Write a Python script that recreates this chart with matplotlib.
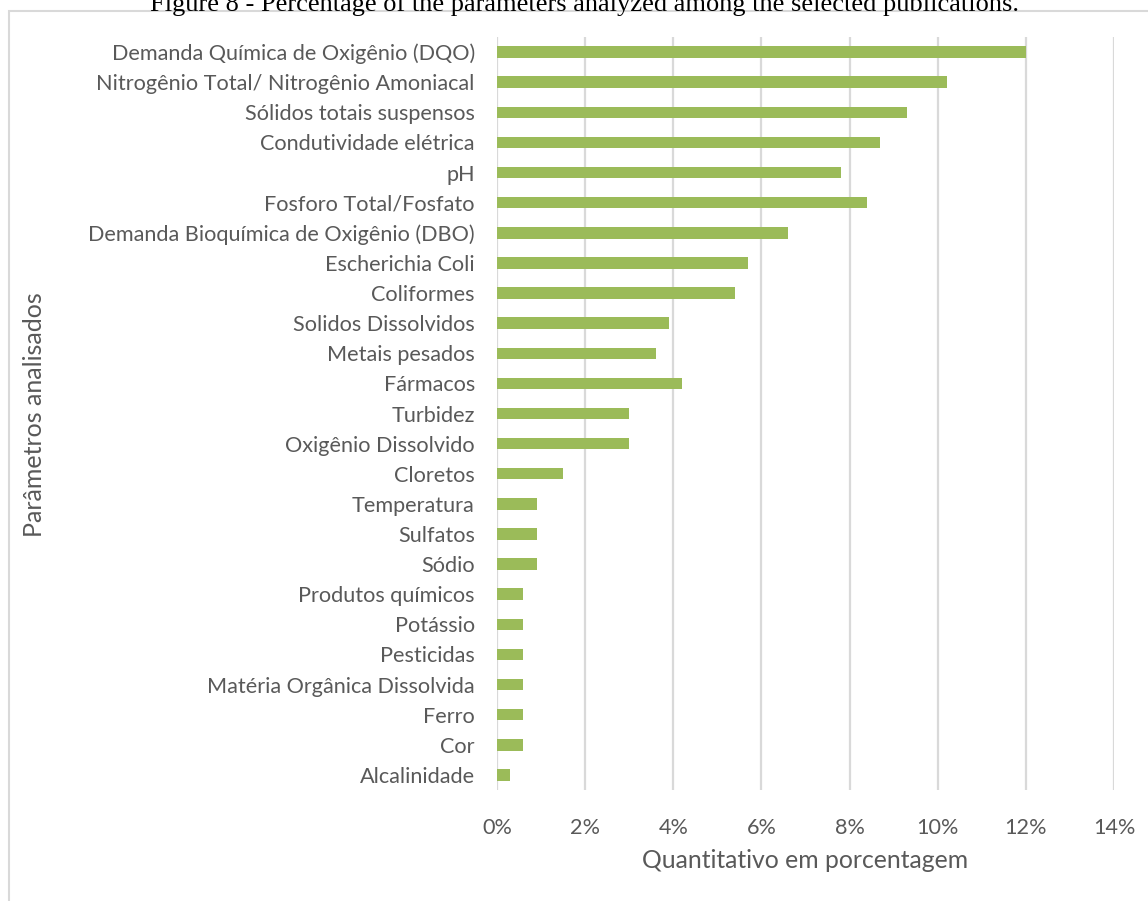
import matplotlib
matplotlib.use("Agg")
import matplotlib.pyplot as plt
from matplotlib.patches import Rectangle

categories = [
    "Demanda Química de Oxigênio (DQO)",
    "Nitrogênio Total/ Nitrogênio Amoniacal",
    "Sólidos totais suspensos",
    "Condutividade elétrica",
    "pH",
    "Fosforo Total/Fosfato",
    "Demanda Bioquímica de Oxigênio (DBO)",
    "Escherichia Coli",
    "Coliformes",
    "Solidos Dissolvidos",
    "Metais pesados",
    "Fármacos",
    "Turbidez",
    "Oxigênio Dissolvido",
    "Cloretos",
    "Temperatura",
    "Sulfatos",
    "Sódio",
    "Produtos químicos",
    "Potássio",
    "Pesticidas",
    "Matéria Orgânica Dissolvida",
    "Ferro",
    "Cor",
    "Alcalinidade",
]
values = [12.0, 10.2, 9.3, 8.7, 7.8, 8.4, 6.6, 5.7, 5.4, 3.9, 3.6, 4.2, 3.0, 3.0,
          1.5, 0.9, 0.9, 0.9, 0.6, 0.6, 0.6, 0.6, 0.6, 0.6, 0.3]
xticks = [0, 2, 4, 6, 8, 10, 12, 14]
xtick_labels = ["0%", "2%", "4%", "6%", "8%", "10%", "12%", "14%"]

caption = "Figure 8 - Percentage of the parameters analyzed among the selected publications."
xlabel = "Quantitativo em porcentagem"
ylabel = "Parâmetros analisados"

W, H = 1148, 901
fig = plt.figure(figsize=(W / 100, H / 100), dpi=100)

txt_color = "#595959"
font = "Lato"

# axes: x 497..1114, y 37..790 (pixel)
ax = fig.add_axes([497 / W, 1 - 790 / H, (1114 - 497) / W, (790 - 37) / H])
ypos = list(range(len(categories)))
ax.barh(ypos, values, height=0.38, color="#9bbb59", zorder=3)
ax.set_ylim(len(categories) - 0.5, -0.5)
ax.set_xlim(0, 14)
ax.set_xticks(xticks)
ax.set_xticklabels(xtick_labels)
ax.set_yticks(ypos)
ax.set_yticklabels(categories)
ax.grid(axis="x", color="#d9d9d9", linewidth=1.6, zorder=0)
for s in ax.spines.values():
    s.set_visible(False)
ax.tick_params(axis="both", length=0, colors=txt_color, labelsize=15.6)
ax.tick_params(axis="y", pad=16)
ax.tick_params(axis="x", pad=20)
for lbl in ax.get_xticklabels() + ax.get_yticklabels():
    lbl.set_fontfamily(font)
    lbl.set_color(txt_color)

fig.text(805 / W, 1 - 861 / H, xlabel, ha="center", va="center",
         fontsize=17.8, color=txt_color, family=font)
fig.text(35 / W, 1 - 415 / H, ylabel, ha="center", va="center", rotation=90,
         fontsize=18, color=txt_color, family=font)

# chart frame (partially visible)
fig.patches.append(Rectangle((9 / W, -0.05), 1.2, 1 - 11 / H + 0.05,
                             transform=fig.transFigure, fill=False,
                             edgecolor="#d9d9d9", linewidth=1.5))

# cut-off caption at top
fig.text(584 / W, 1 - 11 / H, caption, ha="center", va="baseline",
         fontsize=19, color="black", family="Liberation Serif")

fig.savefig("out.png", dpi=100)
